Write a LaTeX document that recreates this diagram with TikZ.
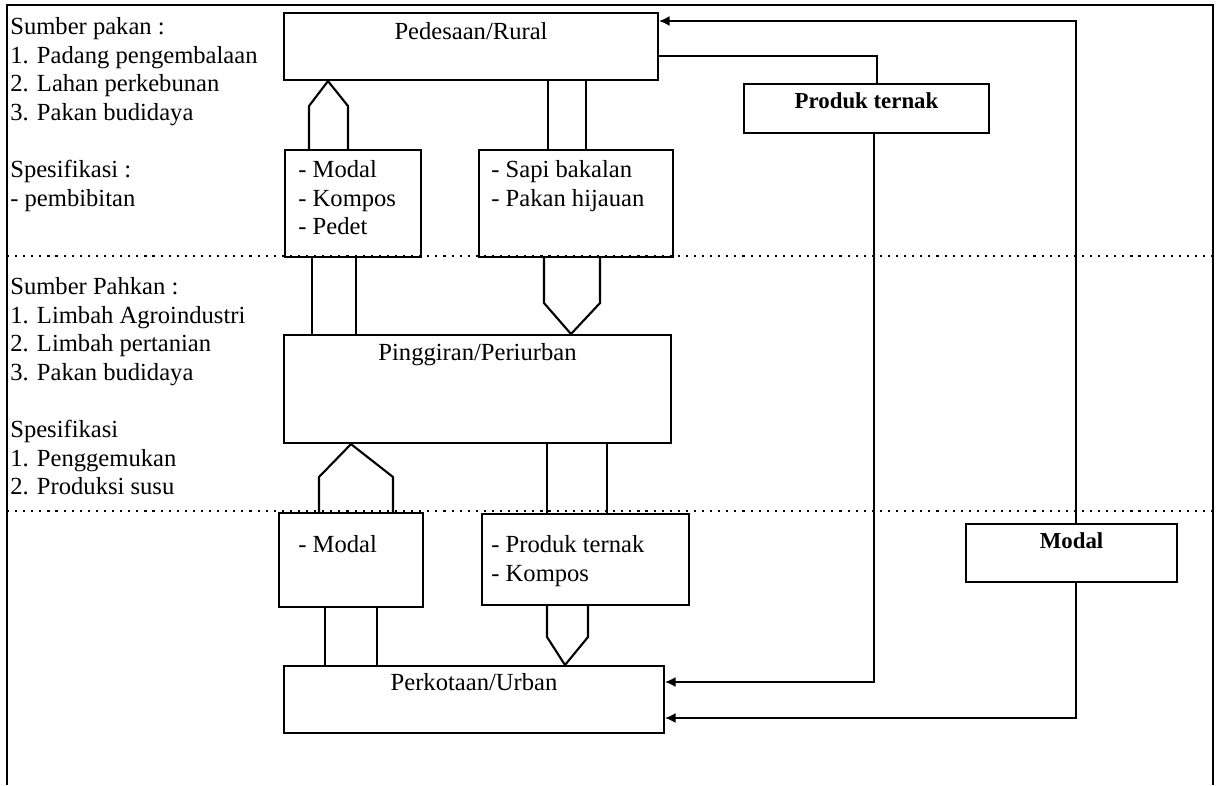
\documentclass[tikz,border=0pt]{standalone}
\usepackage{fontspec}
\setmainfont{Liberation Serif}
\usetikzlibrary{arrows.meta,positioning}

\begin{document}
\begin{tikzpicture}[x=0.02cm, y=-0.02cm,
		box/.style={draw, line width=1.2pt, anchor=north west, inner sep=0pt},
		txt/.style={font=\fontsize{14}{16.3}\selectfont, inner sep=0pt, align=left, anchor=north west},
		boxtitle/.style={font=\fontsize{14}{16.3}\selectfont, inner sep=0pt, anchor=north},
		boldtitle/.style={font=\fontsize{13}{16}\selectfont\bfseries, inner sep=0pt, anchor=north},
		fat/.style={line width=1.2pt, line join=miter},
		conn/.style={line width=1pt},
		arrowend/.style={-{Latex[length=0.21cm, width=0.2cm]}},
		zoneline/.style={line width=0.6pt, dash pattern=on 1.2pt off 3.4pt}]
		%%%%% START %%%%%
		
		\useasboundingbox (0,0) rectangle (1217,785);
		\draw[line width=1pt] (7,785) -- (7,5) -- (1213,5) -- (1213,785);
		\draw[zoneline] (7,256) -- (1213,256);
		\draw[zoneline] (7,511) -- (1213,511);
		
		% left column
		\node[txt] (zoneA) at (10,17) {Sumber pakan :\\1. Padang pengembalaan\\2. Lahan perkebunan\\3. Pakan budidaya\\[16.3pt]Spesifikasi :\\- pembibitan};
		\node[txt] (zoneB) at (10,277) {Sumber Pahkan :\\1. Limbah Agroindustri\\2. Limbah pertanian\\3. Pakan budidaya\\[16.3pt]Spesifikasi\\1. Penggemukan\\2. Produksi susu};
		
		% main boxes
		\node[box, minimum width=7.48cm, minimum height=1.34cm] (rural) at (283,12) {};
		\node[boxtitle] (ruraltxt) at ([shift={(0,10)}]rural.north) {Pedesaan/Rural};
		\node[box, minimum width=7.74cm, minimum height=2.16cm] (periurban) at (283,334) {};
		\node[boxtitle] (periurbantxt) at ([shift={(0,9)}]periurban.north) {Pinggiran/Periurban};
		\node[box, minimum width=7.6cm, minimum height=1.34cm] (urban) at (283,665) {};
		\node[boxtitle] (urbantxt) at ([shift={(0,8)}]urban.north) {Perkotaan/Urban};
		
		% flow boxes
		\node[box, minimum width=2.72cm, minimum height=2.14cm] (modalA) at (284,149) {};
		\node[txt] (modalAtxt) at ([shift={(14,11)}]modalA.north west) {- Modal\\- Kompos\\- Pedet};
		\node[box, minimum width=3.88cm, minimum height=2.14cm] (sapi) at (478,149) {};
		\node[txt] (sapitxt) at ([shift={(13,11)}]sapi.north west) {- Sapi bakalan\\- Pakan hijauan};
		\node[box, minimum width=2.88cm, minimum height=1.88cm] (modalB) at (278,512) {};
		\node[txt] (modalBtxt) at ([shift={(20,23)}]modalB.north west) {- Modal};
		\node[box, minimum width=4.14cm, minimum height=1.82cm] (produkB) at (481,513) {};
		\node[txt] (produkBtxt) at ([shift={(10,22)}]produkB.north west) {- Produk ternak\\- Kompos};
		
		% right boxes
		\node[box, minimum width=4.9cm, minimum height=0.98cm] (produk) at (743,83) {};
		\node[boldtitle] (produktxt) at ([shift={(0,9)}]produk.north) {Produk ternak};
		\node[box, minimum width=4.22cm, minimum height=1.16cm] (modal) at (965,523) {};
		\node[boldtitle] (modaltxt) at ([shift={(0,9)}]modal.north) {Modal};
		
		% hollow arrows
		\draw[fat] (309,0 |- modalA.north) -- (309,106) -- (328,0 |- rural.south) -- (348,106) -- (348,0 |- modalA.north);
		\draw[fat] (312,0 |- modalA.south) -- (312,0 |- periurban.north);
		\draw[fat] (356,0 |- modalA.south) -- (356,0 |- periurban.north);
		
		\draw[fat] (548,0 |- rural.south) -- (548,0 |- sapi.north);
		\draw[fat] (586,0 |- rural.south) -- (586,0 |- sapi.north);
		\draw[fat] (544,0 |- sapi.south) -- (544,303) -- (571,0 |- periurban.north) -- (600,303) -- (600,0 |- sapi.south);
		
		\draw[fat] (319,0 |- modalB.north) -- (319,477) -- (351,0 |- periurban.south) -- (393,477) -- (393,0 |- modalB.north);
		\draw[fat] (325,0 |- modalB.south) -- (325,0 |- urban.north);
		\draw[fat] (377,0 |- modalB.south) -- (377,0 |- urban.north);
		
		\draw[fat] (547,0 |- periurban.south) -- (547,0 |- produkB.north);
		\draw[fat] (607,0 |- periurban.south) -- (607,0 |- produkB.north);
		\draw[fat] (547,0 |- produkB.south) -- (547,637) -- (565,0 |- urban.north) -- (588,637) -- (588,0 |- produkB.south);
		
		% right connectors
		\draw[conn, arrowend] (1076,0 |- modal.north) |- (rural.east |- 0,21);
		\draw[conn] (rural.east |- 0,56) -| (877,0 |- produk.north);
		\draw[conn, arrowend] (874,0 |- produk.south) |- (urban.east |- 0,682);
		\draw[conn, arrowend] (1076,0 |- modal.south) |- (urban.east |- 0,718);
		
		%%%%% END %%%%%
	\end{tikzpicture}
\end{document}
